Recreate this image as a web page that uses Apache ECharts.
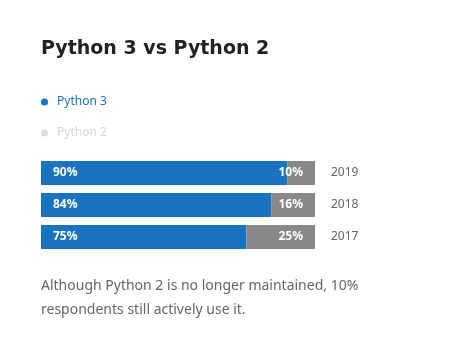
<!DOCTYPE html>
<html>
<head>
<meta charset="utf-8">
<script src="https://cdn.jsdelivr.net/npm/echarts@6/dist/echarts.min.js"></script>
<style>
  html, body { margin: 0; padding: 0; background: #fff; }
  #chart { width: 460px; height: 361px; }
</style>
</head>
<body>
<div id="chart"></div>
<script>
const years = ["2019", "2018", "2017"];
const python3 = [90, 84, 75];
const python2 = [10, 16, 25];

const FONT = "'Noto Sans', 'Open Sans', sans-serif";
const BLUE = "#1a73be";
const GREY = "#888888";

const chart = echarts.init(document.getElementById("chart"), null, { renderer: "canvas" });

const barLabel = (pos) => ({
  show: true,
  position: pos,
  distance: 12,
  formatter: (p) => p.value + "%",
  color: "#fff",
  fontWeight: "bold",
  fontSize: 12,
  fontFamily: FONT,
});

chart.setOption({
  backgroundColor: "#fff",
  animation: false,
  title: {
    text: "Python 3 vs Python 2",
    left: 36,
    top: 35,
    textStyle: { fontSize: 19, fontWeight: "bold", color: "#222", fontFamily: "'DejaVu Sans', sans-serif" },
  },
  legend: {
    orient: "vertical",
    left: 36,
    top: 91,
    itemGap: 19,
    icon: "circle",
    itemWidth: 7,
    itemHeight: 7,
    selectedMode: false,
    data: [
      { name: "Python 3", itemStyle: { color: BLUE }, textStyle: { color: BLUE } },
      { name: "Python 2", itemStyle: { color: "#dddddd" }, textStyle: { color: "#d8d8d8" } },
    ],
    textStyle: { fontSize: 12, fontFamily: FONT, padding: [0, 0, 0, 4] },
  },
  grid: { left: 41, right: 145, top: 157, height: 96 },
  xAxis: { type: "value", min: 0, max: 100, show: false },
  yAxis: {
    type: "category",
    data: years,
    inverse: true,
    position: "right",
    axisLine: { show: false },
    axisTick: { show: false },
    axisLabel: { margin: 16, color: "#666", fontSize: 12, fontFamily: FONT },
  },
  series: [
    {
      name: "Python 3",
      type: "bar",
      stack: "total",
      data: python3,
      barWidth: 24,
      itemStyle: { color: BLUE },
      label: barLabel("insideLeft"),
    },
    {
      name: "Python 2",
      type: "bar",
      stack: "total",
      data: python2,
      barWidth: 24,
      itemStyle: { color: GREY },
      label: barLabel("insideRight"),
    },
  ],
  graphic: [
    {
      type: "text",
      left: 41,
      top: 274,
      style: {
        text: "Although Python 2 is no longer maintained, 10%\nrespondents still actively use it.",
        fill: "#666",
        font: "14px " + FONT,
        lineHeight: 24,
      },
    },
  ],
});
</script>
</body>
</html>
